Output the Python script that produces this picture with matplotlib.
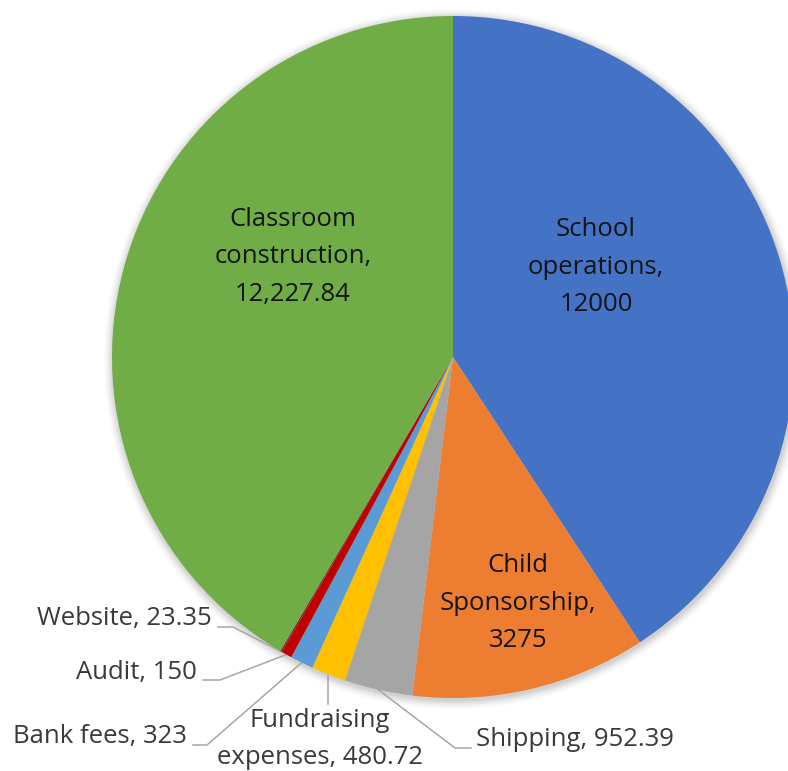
import numpy as np
import matplotlib.pyplot as plt
from matplotlib.patches import Circle

# data
categories = ['School operations', 'Child Sponsorship', 'Shipping', 'Fundraising expenses',
              'Bank fees', 'Audit', 'Website', 'Classroom construction']
values = [12000, 3275, 952.39, 480.72, 323, 150, 23.35, 12227.84]
value_text = ['12000', '3275', '952.39', '480.72', '323', '150', '23.35', '12,227.84']
colors = ['#4472C4', '#ED7D31', '#A5A5A5', '#FFC000', '#5B9BD5', '#C00000', '#7B2C2C', '#70AD47']

W, H = 788, 771
plt.rcParams['font.family'] = ['Open Sans', 'DejaVu Sans']

fig = plt.figure(figsize=(W / 100, H / 100), dpi=100)
ax = fig.add_axes([0, 0, 1, 1])

cx, cy, R = 453, H - 357, 341

# soft shadow under the pie
for i, a in enumerate([0.05, 0.05, 0.04, 0.03, 0.02]):
    ax.add_patch(Circle((cx + 1, cy - 2), R + 1 + i * 2, color='#000000', alpha=a, lw=0, zorder=0))

wedges, _ = ax.pie(values, colors=colors, startangle=90, counterclock=False,
                   center=(cx, cy), radius=R, wedgeprops=dict(linewidth=0))
for w in wedges:
    w.set_zorder(2)

ax.set_xlim(0, W)
ax.set_ylim(0, H)
ax.set_aspect('equal')
ax.axis('off')

def mid_point(w, r=1.0):
    a = np.deg2rad((w.theta1 + w.theta2) / 2)
    return cx + w.r * r * np.cos(a), cy + w.r * r * np.sin(a)

inside_col = '#141414'
outside_col = '#3a3a3a'
fs = 18.5
ls = 1.68

# labels inside the big slices (pixel positions from top)
inside = {0: (596, 267, 'School\noperations,\n'),
          1: (518, 603, 'Child\nSponsorship,\n'),
          7: (293, 257, 'Classroom\nconstruction,\n')}
for i, (x, y, txt) in inside.items():
    ax.text(x, H - y, txt + value_text[i], ha='center', va='center', fontsize=fs,
            color=inside_col, linespacing=ls, zorder=5)

# outside labels: text position, alignment, elbow point (pixels from top)
outside = {
    6: dict(text=(212, 618), ha='right', elbow=[(233, 627)], start=(218, 627)),
    5: dict(text=(197, 672), ha='right', elbow=[(220, 680)], start=(203, 680)),
    4: dict(text=(187, 737), ha='right', elbow=[(207, 745)], start=(193, 745)),
    3: dict(text=(320, 739), ha='center', elbow=[], start=(328, 704)),
    2: dict(text=(476, 740), ha='left', elbow=[(455, 748)], start=(471, 748)),
}
for i, o in outside.items():
    if i == 3:
        txt = 'Fundraising\nexpenses, ' + value_text[i]
    else:
        txt = categories[i] + ', ' + value_text[i]
    ax.text(o['text'][0], H - o['text'][1], txt, ha=o['ha'], va='center', fontsize=fs,
            color=outside_col, linespacing=1.6, zorder=5)
    ex, ey = mid_point(wedges[i])
    if i == 3:
        pts = [(ex, H - o['start'][1]), (ex, ey)]
    else:
        pts = [(o['start'][0], H - o['start'][1])] + [(x, H - y) for x, y in o['elbow']] + [(ex, ey)]
    xs, ys = zip(*pts)
    ax.plot(xs, ys, color='#A6A6A6', lw=1.1, zorder=1)

fig.savefig('out.png', dpi=100, facecolor='white')
